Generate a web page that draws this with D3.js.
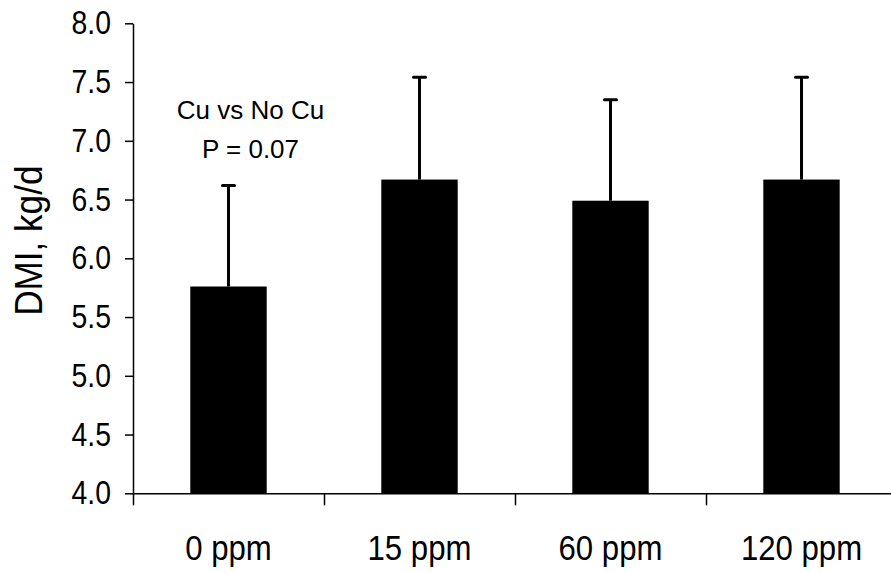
<!DOCTYPE html>
<html>
<head>
<meta charset="utf-8">
<script src="https://cdn.jsdelivr.net/npm/d3@7"></script>
<style>
  body { margin: 0; background: #fff; }
  svg { display: block; font-family: "Liberation Sans", Arial, sans-serif; }
</style>
</head>
<body>
<script>
const categories = ["0 ppm", "15 ppm", "60 ppm", "120 ppm"];
const dmi = [5.76, 6.67, 6.49, 6.67];
const sdUpper = [0.86, 0.87, 0.86, 0.87];
const yTicks = [4.0, 4.5, 5.0, 5.5, 6.0, 6.5, 7.0, 7.5, 8.0];
const noteLines = ["Cu vs No Cu", "P = 0.07"];

const svgWidth = 891;
const svgHeight = 573;

const svg = d3.select("body")
.append("svg")
.attr("width", svgWidth)
.attr("height", svgHeight)
.style("background-color", "white");

const xLeft = 133, xRight = 897;
const yScale = d3.scaleLinear()
.domain([4, 8])
.range([493.3, 23.3]);

const xScale = d3.scaleBand()
.domain(categories)
.range([xLeft, xRight])
.paddingInner(0.6)
.paddingOuter(0.3);

// boundary ticks between the categories
const xEdge = d3.scaleLinear()
.domain([0, categories.length])
.range([xLeft, xRight]);

const data = categories.map((c, i) => ({ cat: c, v: dmi[i], e: sdUpper[i] }));

// squeeze text horizontally, the original font is a narrow one
function narrow(sel, sx) {
  sel.each(function() {
    const t = d3.select(this);
    const x = +t.attr("x") || 0, y = +t.attr("y") || 0;
    t.attr("x", 0).attr("y", 0)
     .attr("transform", `translate(${x},${y}) scale(${sx},1)`);
  });
}

// bars
svg.selectAll(".bar")
.data(data)
.enter().append("rect")
.attr("class", "bar")
.attr("x", d => xScale(d.cat))
.attr("y", d => yScale(d.v))
.attr("width", xScale.bandwidth())
.attr("height", d => yScale(4) - yScale(d.v))
.attr("fill", "#000");

// error bars (upper only)
const errG = svg.selectAll(".err")
.data(data)
.enter().append("g")
.attr("class", "err");

errG.append("line")
.attr("x1", d => xScale(d.cat) + xScale.bandwidth() / 2)
.attr("x2", d => xScale(d.cat) + xScale.bandwidth() / 2)
.attr("y1", d => yScale(d.v))
.attr("y2", d => yScale(d.v + d.e))
.attr("stroke", "#000")
.attr("stroke-width", 3);

errG.append("line")
.attr("x1", d => xScale(d.cat) + xScale.bandwidth() / 2 - 6)
.attr("x2", d => xScale(d.cat) + xScale.bandwidth() / 2 + 6)
.attr("y1", d => yScale(d.v + d.e))
.attr("y2", d => yScale(d.v + d.e))
.attr("stroke", "#000")
.attr("stroke-width", 3)
.attr("stroke-linecap", "round");

// y axis
const yAxis = svg.append("g")
.attr("transform", `translate(${xLeft},0)`)
.call(d3.axisLeft(yScale)
  .tickValues(yTicks)
  .tickFormat(d3.format(".1f"))
  .tickSize(8)
  .tickSizeOuter(0)
  .tickPadding(14));

yAxis.selectAll("text")
.attr("font-size", 33)
.attr("font-family", "Liberation Sans, Arial, sans-serif")
.attr("fill", "#000")
.call(narrow, 0.86);

// x axis line + boundary ticks
svg.append("g")
.attr("transform", `translate(0,${yScale(4)})`)
.call(d3.axisBottom(xEdge)
  .tickValues(d3.range(categories.length + 1))
  .tickFormat("")
  .tickSize(12)
  .tickSizeOuter(0));

// category labels
const xLabels = svg.append("g")
.attr("transform", `translate(0,${yScale(4)})`)
.call(d3.axisBottom(xScale).tickSize(0).tickPadding(42));
xLabels.select(".domain").remove();
xLabels.selectAll("text")
.attr("font-size", 35)
.attr("font-family", "Liberation Sans, Arial, sans-serif")
.attr("fill", "#000")
.call(narrow, 0.89);

svg.selectAll(".domain, .tick line")
.attr("stroke", "#000")
.attr("stroke-width", 1.5);

// y title
svg.append("text")
.attr("transform", `translate(42,${yScale(6.15)}) rotate(-90) scale(0.9,1)`)
.attr("text-anchor", "middle")
.attr("font-size", 39)
.attr("fill", "#000")
.text("DMI, kg/d");

// annotation
svg.selectAll(".note")
.data(noteLines)
.enter().append("text")
.attr("class", "note")
.attr("x", xScale(categories[0]) + xScale.bandwidth() / 2 + 22)
.attr("y", (d, i) => yScale(7.185 - i * 0.33))
.attr("text-anchor", "middle")
.attr("font-size", 26)
.attr("fill", "#000")
.text(d => d);
</script>
</body>
</html>
